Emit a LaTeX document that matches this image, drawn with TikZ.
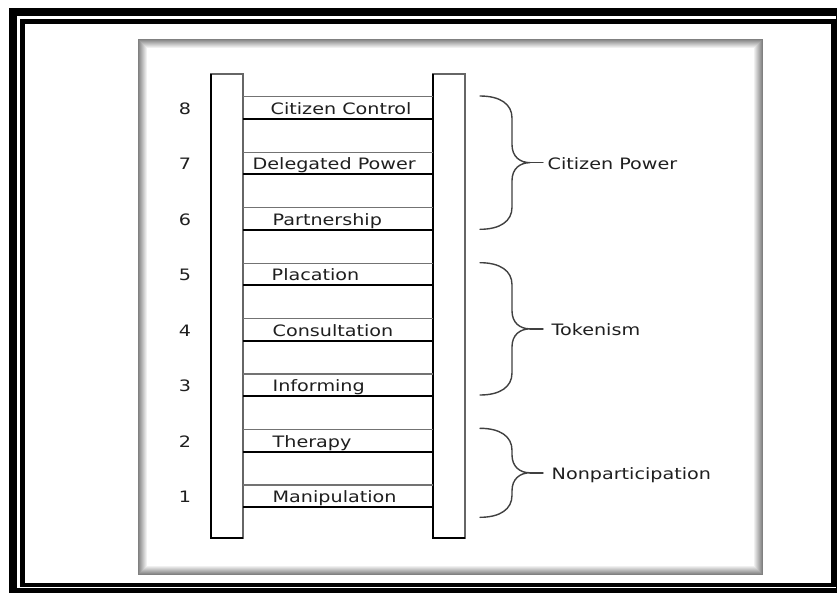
\documentclass[tikz,border=0pt]{standalone}
\usepackage{fontspec}
\newfontfamily\ladfont[FakeStretch=1.22]{DejaVu Sans}
\begin{document}
\begin{tikzpicture}[x=1pt,y=-1pt,
  lbl/.style={font=\ladfont\fontsize{15.7}{18}\selectfont, text=black!88, inner sep=0pt, anchor=base west},
  num/.style={font=\ladfont\fontsize{15.7}{18}\selectfont, text=black!88, inner sep=0pt, anchor=base},
  rungtop/.style={draw=black!55, line width=1.2pt},
  rungbot/.style={draw=black, line width=2pt},
  railedge/.style={draw=black!60, line width=1.2pt},
  railthick/.style={draw=black, line width=2.4pt},
  bracestyle/.style={draw=black!75, line width=1.4pt, line cap=round}]
\useasboundingbox (0,0) rectangle (837,592);
\fill[white] (0,0) rectangle (837,592);

% double frame
\draw[line width=8pt] (13,12) rectangle (840,592);
\draw[line width=4.5pt] (22.5,21.5) rectangle (833.5,585);

% panel with soft inner edge
\fill[white] (138,39) rectangle (763,575);
\foreach \i [evaluate=\i as \g using 50-5.5*\i] in {0,...,8}
  \draw[line width=1pt, black!\g] (138+\i+0.5,39+\i+0.5) rectangle (763-\i-0.5,575-\i-0.5);

% ladder rails
\draw[railedge] (211,74) rectangle (243,538);
\draw[railthick] (211,74) -- (211,538) -- (243,538);
\draw[railedge] (433,74) rectangle (465,538);
\draw[railthick] (433,74) -- (433,538) -- (465,538);

% rungs with their labels and numbers
\foreach \k/\txt/\lx [evaluate=\k as \t using 485-(\k-1)*55.47,
                      evaluate=\k as \b using 507-(\k-1)*55.47] in
  {1/Manipulation/272.5, 2/Therapy/272.5, 3/Informing/272.5,
   4/Consultation/272.5, 5/Placation/271.5, 6/Partnership/272.5,
   7/Delegated Power/252.5, 8/Citizen Control/270.5}
{
  \draw[rungtop] (243,\t) -- (433,\t);
  \draw[rungbot] (243,\b) -- (433,\b);
  \node[lbl] (r\k) at (\lx,\b-4.3) {\txt};
  \node[num] (n\k) at (185,\b-4.3) {\k};
}

% braces with group labels
\foreach \yt/\yb/\nm/\txt/\lx [evaluate=\yt as \ym using (\yt+\yb)/2] in
  {96/229.3/cp/Citizen Power/547.5,
   262.7/395/tk/Tokenism/551.5,
   428.3/517.3/np/Nonparticipation/551.5}
{
  \draw[bracestyle] (480,\yt) .. controls (500,\yt) and (512,\yt+8) .. (512,\yt+22)
     -- (512,\ym-18) .. controls (512,\ym-6) and (520,\ym) .. (530,\ym)
     .. controls (520,\ym) and (512,\ym+6) .. (512,\ym+18)
     -- (512,\yb-22) .. controls (512,\yb-8) and (500,\yb) .. (480,\yb);
  \coordinate (\nm tip) at (530,\ym);
  \coordinate (\nm stub) at (543,\ym);
  \node[lbl] (\nm) at (\lx,\ym+6.5) {\txt};
  \draw[bracestyle] (\nm tip) -- (\nm stub);
}
\end{tikzpicture}
\end{document}
